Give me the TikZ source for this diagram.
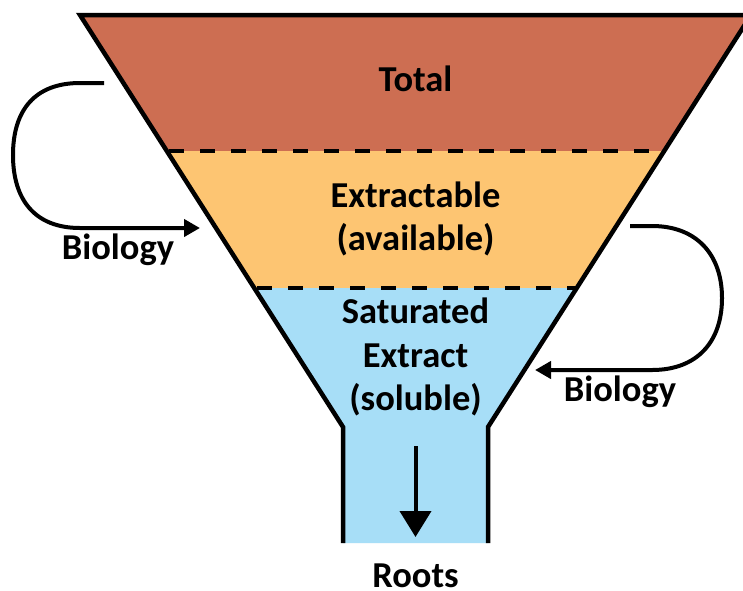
\documentclass[tikz,border=0pt]{standalone}
\usepackage{fontspec}
\setmainfont{Carlito}
\usetikzlibrary{arrows.meta}
\definecolor{cTotal}{RGB}{205,110,82}
\definecolor{cExtr}{RGB}{253,197,114}
\definecolor{cSol}{RGB}{167,222,247}
\definecolor{cInk}{RGB}{0,0,0}
\begin{document}
\begin{tikzpicture}[x=1pt,y=-1pt,
  lbl/.style={font=\fontsize{36.5}{43.5}\selectfont\bfseries, text=cInk, align=center, inner sep=0pt},
  outline/.style={line width=4.5pt, draw=cInk, miter limit=20},
  sep/.style={line width=4.5pt, draw=cInk, dash pattern=on 15pt off 16pt},
  loop/.style={line width=4pt, draw=cInk, -{Triangle[length=16pt,width=17pt]}},
  down/.style={line width=4pt, draw=cInk, -{Triangle[length=26pt,width=31pt]}}]
\clip (0,0) rectangle (743,590);
\fill[white] (0,0) rectangle (743,590);
% bands
\fill[cTotal] (80,15) -- (751,15) -- (664.2,151) -- (166.8,151) -- cycle;
\fill[cExtr] (166.8,151) -- (664.2,151) -- (576.8,288) -- (254.2,288) -- cycle;
\fill[cSol] (254.2,288) -- (576.8,288) -- (488,427) -- (488,543) -- (343,543) -- (343,427) -- cycle;
% separators
\draw[sep] (169,151) -- (663,151);
\draw[sep] (257,288) -- (575,288);
% outline
\draw[outline] (343,543) -- (343,427) -- (80,15) -- (751,15) -- (488,427) -- (488,543);
% labels
\node[lbl] (total) at (415.5,79) {Total};
\node[lbl] (extr) at (415.5,219) {Extractable\\(available)};
\node[lbl] (sol) at (415.5,357) {Saturated\\Extract\\(soluble)};
\node[lbl] (roots) at (415.5,576) {Roots};
\node[lbl] (bioL) at (118,250) {Biology};
\node[lbl] (bioR) at (620,392) {Biology};
% loop arrows
\coordinate (lA) at (104,83);
\coordinate (lB) at (200,228);
\draw[loop] (lA) -- (80,83) .. controls (35,83) and (13,110) .. (13,155)
  .. controls (13,200) and (35,228) .. (80,228) -- (lB);
\coordinate (rA) at (630,226);
\coordinate (rB) at (535,370);
\draw[loop] (rA) -- (652,226) .. controls (697,226) and (722,255) .. (722,298)
  .. controls (722,342) and (697,370) .. (652,370) -- (rB);
% flow to roots
\coordinate (dA) at (415.5,446);
\coordinate (dB) at (415.5,537);
\draw[down] (dA) -- (dB);
\end{tikzpicture}
\end{document}
